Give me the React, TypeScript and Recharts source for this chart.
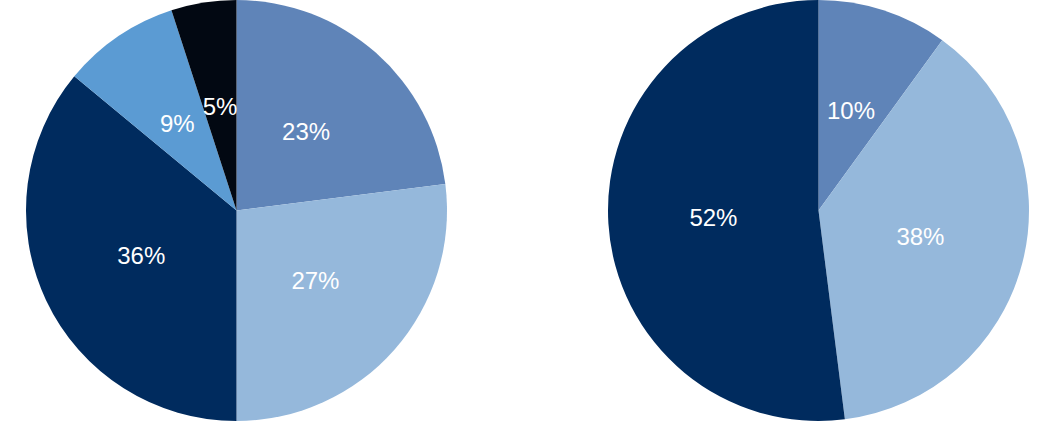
import { PieChart, Pie, Cell } from "recharts";

const leftNames = ["A", "B", "C", "D", "E"];
const leftValues = [23, 27, 36, 9, 5];
const leftColors = ["#5f84b8", "#95b8db", "#002b5e", "#5b9bd3", "#020812"];

const rightNames = ["A", "B", "C"];
const rightValues = [10, 38, 52];
const rightColors = ["#5f84b8", "#95b8db", "#002b5e"];

const RAD = Math.PI / 180;

const renderLabel = (props: any) => {
  const { cx, cy, midAngle, outerRadius, value } = props;
  const r = outerRadius * 0.5;
  const x = cx + r * Math.cos(-midAngle * RAD);
  const y = cy + r * Math.sin(-midAngle * RAD);
  return (
    <text
      x={x}
      y={y}
      fill="#ffffff"
      textAnchor="middle"
      dominantBaseline="central"
      fontSize={24}
      fontFamily="Liberation Sans, Arial, sans-serif"
    >
      {`${value}%`}
    </text>
  );
};

export default function App() {
  const left = leftNames.map((n, i) => ({ name: n, value: leftValues[i] }));
  const right = rightNames.map((n, i) => ({ name: n, value: rightValues[i] }));

  return (
    <div style={{ position: "absolute", left: 0, top: 0, background: "#fff" }}>
      <PieChart width={1042} height={422} margin={{ top: 0, right: 0, bottom: 0, left: 0 }}>
        <Pie
          data={left}
          dataKey="value"
          cx={236.5}
          cy={210.5}
          outerRadius={210.5}
          startAngle={90}
          endAngle={-270}
          stroke="none"
          label={renderLabel}
          labelLine={false}
          isAnimationActive={false}
        >
          {left.map((d, i) => (
            <Cell key={d.name} fill={leftColors[i]} />
          ))}
        </Pie>
        <Pie
          data={right}
          dataKey="value"
          cx={818.5}
          cy={210.5}
          outerRadius={210.5}
          startAngle={90}
          endAngle={-270}
          stroke="none"
          label={renderLabel}
          labelLine={false}
          isAnimationActive={false}
        >
          {right.map((d, i) => (
            <Cell key={d.name} fill={rightColors[i]} />
          ))}
        </Pie>
      </PieChart>
    </div>
  );
}
